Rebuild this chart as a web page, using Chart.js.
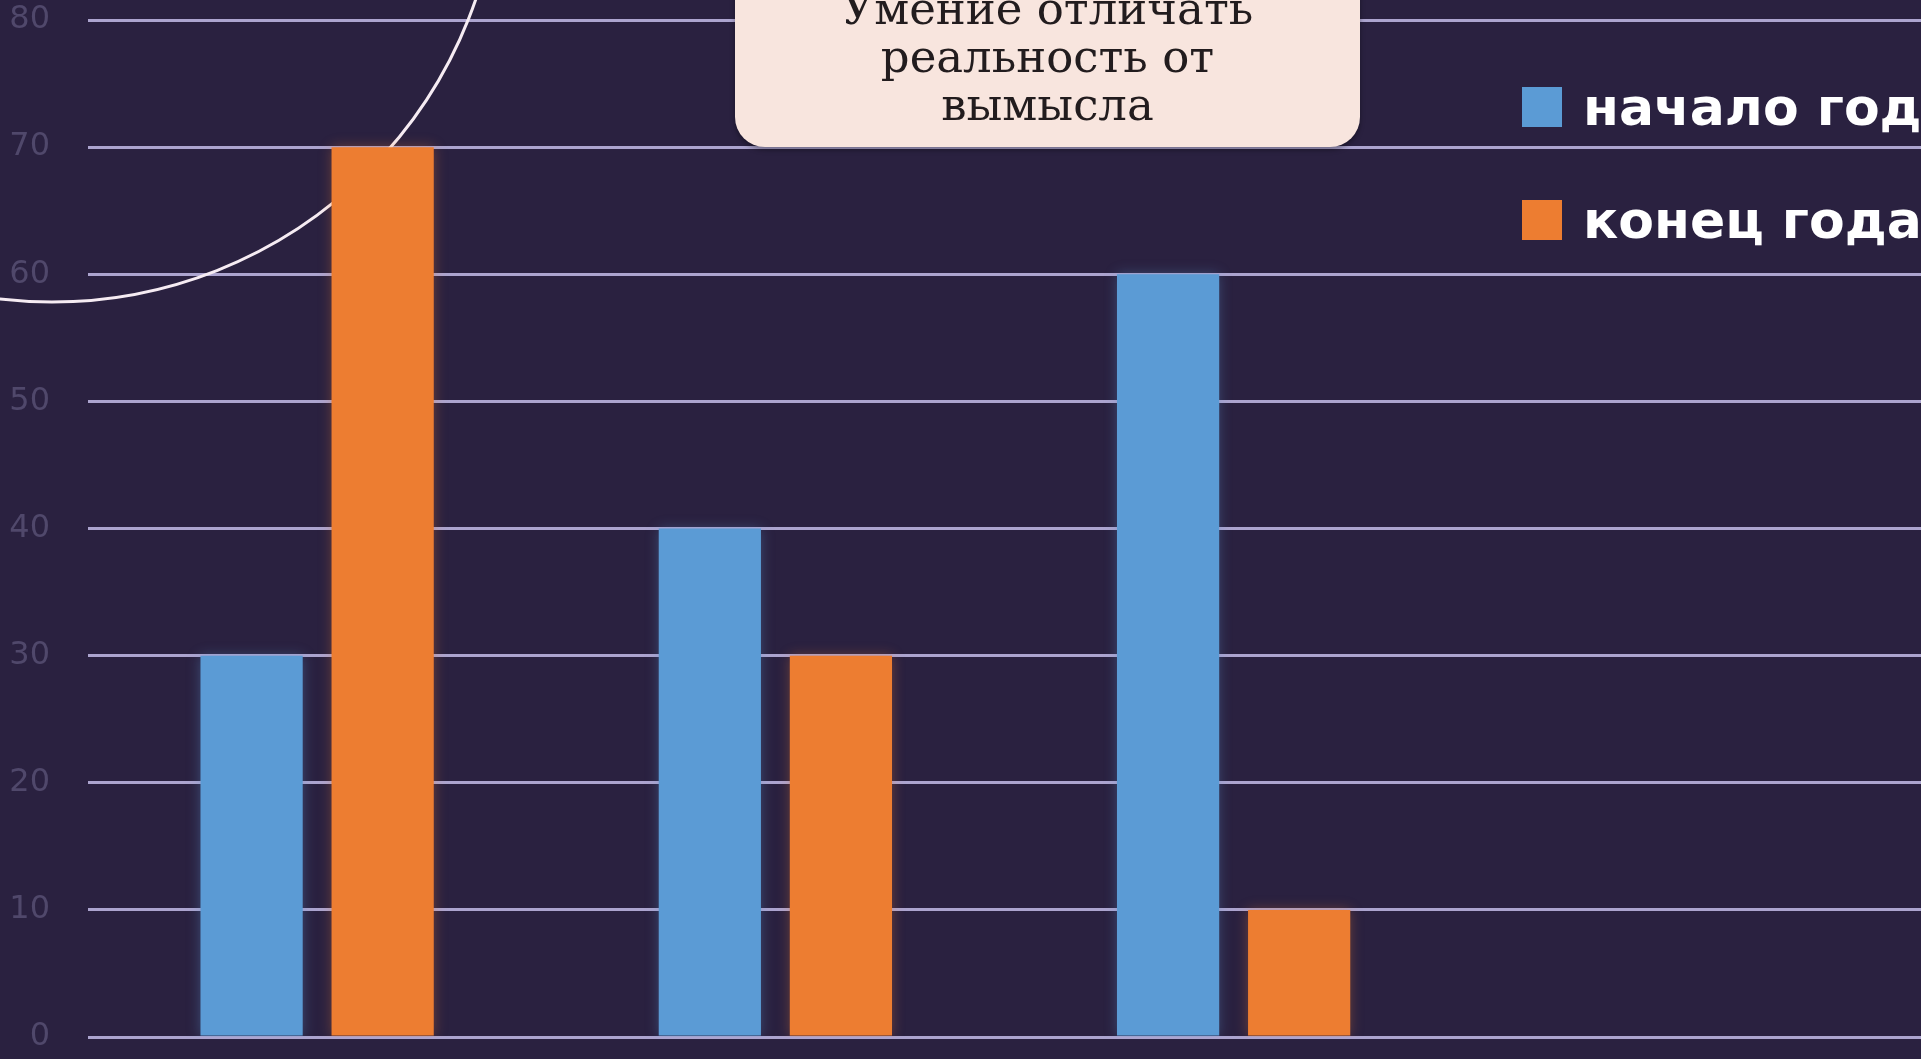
<!DOCTYPE html>
<html lang="ru">
<head>
<meta charset="utf-8">
<title>Умение отличать реальность от вымысла</title>
<script src="https://cdn.jsdelivr.net/npm/chart.js@4.4.1/dist/chart.umd.min.js"></script>
<style>
    html, body {
        margin: 0;
        padding: 0;
        overflow: hidden;
        background: #2a2140;
    }
    #wrap {
        position: absolute;
        left: 0;
        top: 0;
        width: 1921px;
        height: 1059px;
    }
    /* плашка с заголовком */
    #title-box {
        position: absolute;
        left: 735px;
        top: -40px;
        width: 625px;
        height: 187px;
        box-sizing: border-box;
        padding-top: 25px;
        background: #f8e5de;
        border-radius: 30px;
        box-shadow: 0 3px 5px rgba(0, 0, 0, 0.35);
        text-align: center;
        font-family: "DejaVu Serif", serif;
        font-size: 45px;
        line-height: 48px;
        color: #221c1e;
    }
    /* легенда */
    #legend {
        position: absolute;
        left: 1522px;
        top: 77px;
        white-space: nowrap;
    }
    .legend-row {
        display: flex;
        align-items: center;
        height: 60px;
        margin-bottom: 53px;
    }
    .legend-box {
        width: 40px;
        height: 40px;
        margin-right: 21px;
        flex: none;
    }
    .legend-text {
        font-family: "DejaVu Sans", sans-serif;
        font-weight: bold;
        font-size: 52px;
        line-height: 60px;
        color: #ffffff;
    }
</style>
</head>
<body>
<div id="wrap"><canvas id="chart"></canvas></div>
<div id="title-box"></div>
<div id="legend"></div>
<script>
// данные графика
const categories = ['Категория 1', 'Категория 2', 'Категория 3', 'Категория 4'];
const seriesNames = ['начало года', 'конец года'];
const startOfYear = [30, 40, 60, null];   // 4-я категория пустая
const endOfYear = [70, 30, 10, null];
const seriesColors = ['#5b9bd5', '#ed7d31'];
const yMin = 0;
const yMax = 80;
const yStep = 10;
const titleLines = ['Умение отличать', 'реальность от', 'вымысла'];

// белая дуга слева вверху (под столбиками)
const arcPlugin = {
    id: 'decorArc',
    beforeDatasetsDraw(chart) {
        const ctx = chart.ctx;
        ctx.save();
        ctx.strokeStyle = '#f6ecf3';
        ctx.lineWidth = 3;
        ctx.beginPath();
        ctx.arc(52, -146, 448, 0, Math.PI * 2);
        ctx.stroke();
        ctx.restore();
    }
};

// лёгкая тень вокруг столбиков
function hexToRgba(hex, a) {
    const n = parseInt(hex.slice(1), 16);
    return `rgba(${(n >> 16) & 255}, ${(n >> 8) & 255}, ${n & 255}, ${a})`;
}
const barGlow = {
    id: 'barGlow',
    beforeDatasetDraw(chart, args) {
        const ctx = chart.ctx;
        ctx.save();
        ctx.shadowColor = hexToRgba(seriesColors[args.index], 0.35);
        ctx.shadowBlur = 12;
    },
    afterDatasetDraw(chart) {
        chart.ctx.restore();
    }
};

const chart = new Chart(document.getElementById('chart'), {
    type: 'bar',
    data: {
        labels: categories,
        datasets: [
            {
                label: seriesNames[0],
                data: startOfYear,
                backgroundColor: seriesColors[0],
                categoryPercentage: 0.572,
                barPercentage: 0.78
            },
            {
                label: seriesNames[1],
                data: endOfYear,
                backgroundColor: seriesColors[1],
                categoryPercentage: 0.572,
                barPercentage: 0.78
            }
        ]
    },
    options: {
        responsive: true,
        maintainAspectRatio: false,
        animation: false,
        layout: { padding: { top: 20, bottom: 22, left: 0, right: 0 } },
        plugins: {
            legend: { display: false },
            tooltip: { enabled: false }
        },
        scales: {
            x: { display: false },
            y: {
                min: yMin,
                max: yMax,
                ticks: {
                    stepSize: yStep,
                    padding: 38,
                    color: '#50486b',
                    font: { family: 'DejaVu Sans', size: 32 }
                },
                grid: { color: '#aca4cf', lineWidth: 3, drawTicks: false },
                border: { display: false },
                afterFit(scale) {
                    scale.width = 88;
                    scale.paddingTop = 0;
                    scale.paddingBottom = 0;
                }
            }
        }
    },
    plugins: [arcPlugin, barGlow]
});

// заголовок
document.getElementById('title-box').innerHTML = titleLines.join('<br>');

// легенда из наборов данных
const legendEl = document.getElementById('legend');
chart.data.datasets.forEach(ds => {
    const row = document.createElement('div');
    row.className = 'legend-row';
    row.innerHTML = `<div class="legend-box" style="background:${ds.backgroundColor}"></div>` +
                    `<span class="legend-text">${ds.label}</span>`;
    legendEl.appendChild(row);
});
</script>
</body>
</html>
